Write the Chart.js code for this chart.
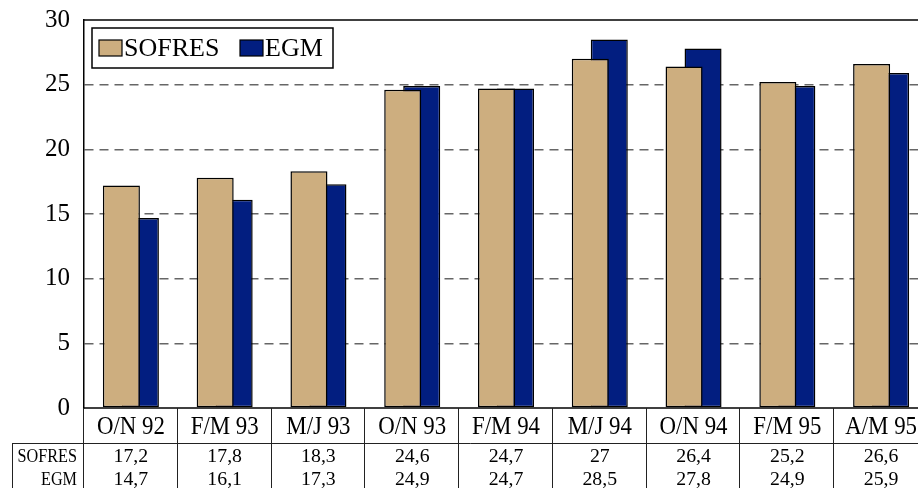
<!DOCTYPE html>
<html>
<head>
<meta charset="utf-8">
<script src="https://cdn.jsdelivr.net/npm/chart.js@4/dist/chart.umd.min.js"></script>
<style>
  html, body { margin: 0; padding: 0; background: #fff; overflow: hidden; }
  #wrap { position: absolute; left: 0; top: 0; width: 930px; height: 488px; }
</style>
</head>
<body>
<div id="wrap"><canvas id="surveyChart" width="930" height="488"></canvas></div>
<script>
// periods of the surveys
const periods = ['O/N 92', 'F/M 93', 'M/J 93', 'O/N 93', 'F/M 94', 'M/J 94', 'O/N 94', 'F/M 95', 'A/M 95'];

// values per institute
const sofresValues = [17.2, 17.8, 18.3, 24.6, 24.7, 27, 26.4, 25.2, 26.6];
const egmValues = [14.7, 16.1, 17.3, 24.9, 24.7, 28.5, 27.8, 24.9, 25.9];

// table text as printed under the chart
const sofresText = ['17,2', '17,8', '18,3', '24,6', '24,7', '27', '26,4', '25,2', '26,6'];
const egmText = ['14,7', '16,1', '17,3', '24,9', '24,7', '28,5', '27,8', '24,9', '25,9'];

const yTicks = [0, 5, 10, 15, 20, 25, 30];

const SERIF = '"Liberation Serif", "Times New Roman", serif';
const TAN = '#CDAE7F';
const NAVY = '#021E80';

// draws the frame, the legend box and the data table under the axis
const tablePlugin = {
    id: 'tablePlugin',
    afterDraw(chart) {
        const ctx = chart.ctx;
        const area = chart.chartArea;
        const xScale = chart.scales.x;
        const catW = (area.right - area.left) / periods.length;

        ctx.save();
        ctx.strokeStyle = '#000';
        ctx.lineWidth = 1.5;

        // top frame line
        ctx.beginPath();
        ctx.moveTo(area.left, area.top);
        ctx.lineTo(area.right, area.top);
        ctx.stroke();

        // zero line
        ctx.beginPath();
        ctx.moveTo(area.left, area.bottom);
        ctx.lineTo(area.right, area.bottom);
        ctx.stroke();

        // table lines
        ctx.lineWidth = 1;
        ctx.strokeStyle = '#222';
        const rowTop = area.bottom + 35;
        ctx.beginPath();
        ctx.moveTo(12.5, rowTop + 0.5);
        ctx.lineTo(area.right, rowTop + 0.5);
        ctx.moveTo(12.5, rowTop);
        ctx.lineTo(12.5, 488);
        for (let i = 0; i <= periods.length; i++) {
            const x = Math.round(area.left + i * catW) - 0.5;
            ctx.moveTo(x, area.bottom);
            ctx.lineTo(x, 488);
        }
        ctx.stroke();

        // category labels and values
        ctx.fillStyle = '#000';
        ctx.textAlign = 'center';
        ctx.textBaseline = 'middle';
        periods.forEach((p, i) => {
            const cx = xScale.getPixelForValue(i);
            ctx.save();
            ctx.translate(cx, area.bottom + 19);
            ctx.scale(0.88, 1);
            ctx.font = '26px ' + SERIF;
            ctx.fillText(p, 0, 0);
            ctx.restore();

            ctx.save();
            ctx.font = '18px ' + SERIF;
            ctx.translate(cx, 0);
            ctx.scale(1.1, 1);
            ctx.fillText(sofresText[i], 0, area.bottom + 49);
            ctx.fillText(egmText[i], 0, area.bottom + 72);
            ctx.restore();
        });

        // row headers
        ctx.textAlign = 'right';
        [['SOFRES', area.bottom + 49], ['EGM', area.bottom + 72]].forEach(([t, y]) => {
            ctx.save();
            ctx.translate(77, y);
            ctx.scale(0.9, 1);
            ctx.font = '18px ' + SERIF;
            ctx.fillText(t, 0, 0);
            ctx.restore();
        });

        // legend
        ctx.fillStyle = '#fff';
        ctx.fillRect(92, 28, 241, 40);
        ctx.strokeStyle = '#000';
        ctx.lineWidth = 1.5;
        ctx.strokeRect(92, 28, 241, 40);
        const items = chart.data.datasets.map((ds, i) => ({ label: ds.label, color: ds.backgroundColor, x: i === 0 ? 99 : 240 }));
        items.forEach(it => {
            ctx.fillStyle = it.color;
            ctx.fillRect(it.x, 40, 23, 16);
            ctx.lineWidth = 1.2;
            ctx.strokeRect(it.x, 40, 23, 16);
            ctx.fillStyle = '#000';
            ctx.font = '26px ' + SERIF;
            ctx.textAlign = 'left';
            ctx.textBaseline = 'middle';
            ctx.fillText(it.label, it.x + 25, 49);
        });

        ctx.restore();
    }
};

const ctx = document.getElementById('surveyChart').getContext('2d');
new Chart(ctx, {
    type: 'bar',
    data: {
        labels: periods,
        datasets: [
            {
                label: 'SOFRES',
                data: sofresValues,
                backgroundColor: TAN,
                borderColor: '#000',
                borderWidth: 1.5,
                borderSkipped: false,
                categoryPercentage: 0.405,
                barPercentage: 1.95
            },
            {
                label: 'EGM',
                data: egmValues,
                backgroundColor: NAVY,
                borderColor: '#000',
                borderWidth: 1.5,
                borderSkipped: false,
                categoryPercentage: 0.405,
                barPercentage: 1.95
            }
        ]
    },
    options: {
        responsive: false,
        animation: false,
        devicePixelRatio: 1,
        layout: { padding: { left: 0, top: 20, right: 2, bottom: 80 } },
        plugins: {
            legend: { display: false },
            tooltip: { enabled: false }
        },
        scales: {
            x: {
                display: false
            },
            y: {
                min: 0,
                max: 30,
                afterFit: scale => {
                    scale.width = 84;
                    scale.paddingTop = 0;
                    scale.paddingBottom = 0;
                },
                afterBuildTicks: scale => { scale.ticks = yTicks.map(v => ({ value: v })); },
                ticks: {
                    color: '#000',
                    padding: 14,
                    font: { family: SERIF, size: 25 }
                },
                grid: {
                    drawTicks: false,
                    lineWidth: 1.5,
                    color: c => (c.tick && (c.tick.value === 0 || c.tick.value === 30)) ? 'rgba(0,0,0,0)' : '#666'
                },
                border: {
                    display: true,
                    color: '#000',
                    width: 1.5,
                    dash: [9, 6]
                }
            }
        }
    },
    plugins: [tablePlugin]
});
</script>
</body>
</html>
